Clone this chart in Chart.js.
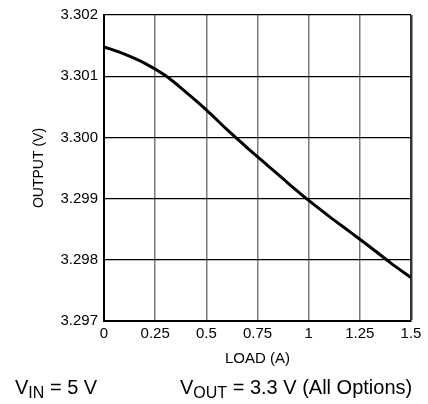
<!DOCTYPE html>
<html>
<head>
<meta charset="utf-8">
<script src="https://cdn.jsdelivr.net/npm/chart.js@4.4.1/dist/chart.umd.min.js"></script>
<style>
  html, body { margin: 0; padding: 0; background: #fff; }
  #wrap { position: relative; width: 428px; height: 404px; }
  #chart { position: absolute; left: 0; top: 0; }
  .cap { position: absolute; font-family: "Liberation Sans", Arial, sans-serif; font-size: 20px; line-height: 20px; color: #000; white-space: nowrap; }
  .cap sub { font-size: 16px; vertical-align: -4px; line-height: 0; }
</style>
</head>
<body>
<div id="wrap">
  <canvas id="chart" width="428" height="404"></canvas>
  <div class="cap" style="left:15px; top:377px;">V<sub>IN</sub> = 5 V</div>
  <div class="cap" style="left:180px; top:377px;">V<sub>OUT</sub> = 3.3 V (All Options)</div>
</div>
<script>
// load current (A) and output voltage (V)
const loadA = [0, 0.1, 0.2, 0.3, 0.4, 0.5, 0.6, 0.7, 0.8, 0.9, 1.0, 1.1, 1.2, 1.3, 1.4, 1.5];
const outputV = [3.30148, 3.30136, 3.30121, 3.30101, 3.30074, 3.30045, 3.30013, 3.29983,
                 3.29954, 3.29925, 3.29897, 3.29871, 3.29846, 3.29821, 3.29795, 3.29771];

const xTickValues = [0, 0.25, 0.5, 0.75, 1, 1.25, 1.5];
const xTickLabels = ['0', '0.25', '0.5', '0.75', '1', '1.25', '1.5'];
const yTickValues = [3.297, 3.298, 3.299, 3.300, 3.301, 3.302];
const yTickLabels = ['3.297', '3.298', '3.299', '3.300', '3.301', '3.302'];

const FONT = '"Liberation Sans", Arial, sans-serif';

const ctx = document.getElementById('chart').getContext('2d');
new Chart(ctx, {
    type: 'line',
    data: {
        datasets: [{
            data: loadA.map((x, i) => ({ x: x, y: outputV[i] })),
            borderColor: '#000',
            borderWidth: 3,
            pointRadius: 0,
            fill: false,
            cubicInterpolationMode: 'monotone'
        }]
    },
    options: {
        responsive: false,
        animation: false,
        devicePixelRatio: 1,
        layout: { padding: { top: 14, right: 17, left: 0, bottom: 0 } },
        plugins: { legend: { display: false }, tooltip: { enabled: false } },
        scales: {
            x: {
                type: 'linear', min: 0, max: 1.5,
                afterBuildTicks: (s) => { s.ticks = xTickValues.map(v => ({ value: v })); },
                afterFit: (s) => { s.height = 83; },
                ticks: {
                    color: '#000', padding: 4, maxRotation: 0, autoSkip: false,
                    font: { family: FONT, size: 15 },
                    callback: (v, i) => xTickLabels[i]
                },
                grid: {
                    drawTicks: false,
                    color: (c) => c.index === xTickValues.length - 1 ? '#333' : '#7a7a7a',
                    lineWidth: (c) => c.index === xTickValues.length - 1 ? 2.5 : 1.5
                },
                border: { color: '#000', width: 2 },
                title: {
                    display: true, text: 'LOAD (A)', color: '#000',
                    font: { family: FONT, size: 15 },
                    padding: { top: 0, bottom: 36 }
                }
            },
            y: {
                type: 'linear', min: 3.297, max: 3.302,
                afterBuildTicks: (s) => { s.ticks = yTickValues.map(v => ({ value: v })); },
                afterFit: (s) => { s.width = 104; },
                ticks: {
                    color: '#000', padding: 6, autoSkip: false,
                    font: { family: FONT, size: 15 },
                    callback: (v, i) => yTickLabels[i]
                },
                grid: { drawTicks: false, color: '#000', lineWidth: 1.2 },
                border: { color: '#000', width: 2 },
                title: {
                    display: true, text: 'OUTPUT (V)', color: '#000',
                    font: { family: FONT, size: 14 },
                    padding: { top: 31, bottom: 0 }
                }
            }
        }
    }
});
</script>
</body>
</html>
